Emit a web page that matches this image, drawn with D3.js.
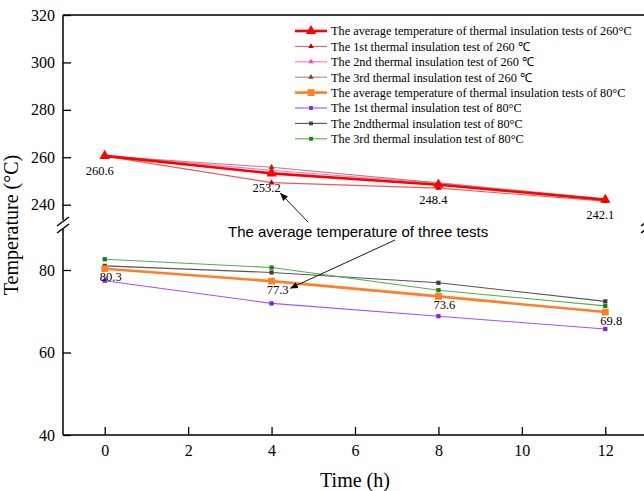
<!DOCTYPE html>
<html>
<head>
<meta charset="utf-8">
<script src="https://cdn.jsdelivr.net/npm/d3@7"></script>
<style>
    body { margin: 0; background: #fff; }
    svg text { font-family: "Liberation Serif", "Times New Roman", serif; fill: #000; }
    .note { font-family: "Liberation Sans", Arial, sans-serif; }
</style>
</head>
<body>
<div id="chart"></div>
<script>

// data
let times = [0, 4, 8, 12];

let avg260 = [260.6, 253.2, 248.4, 242.1];
let test1_260 = [260.5, 249.3, 247.0, 241.5];
let test2_260 = [260.8, 254.5, 249.0, 242.3];
let test3_260 = [260.5, 255.8, 249.2, 242.5];

let avg80 = [80.3, 77.3, 73.6, 69.8];
let test1_80 = [77.4, 71.9, 68.8, 65.7];
let test2_80 = [81.0, 79.4, 76.9, 72.4];
let test3_80 = [82.6, 80.6, 75.1, 71.3];

let xTicks = [0, 2, 4, 6, 8, 10, 12];
let yTicksTop = [240, 260, 280, 300, 320];
let yTicksBottom = [40, 60, 80];

let seriesNames = [
    "The average temperature of thermal insulation tests of 260\u00B0C",
    "The 1st thermal insulation test of 260 \u2103",
    "The 2nd thermal insulation test of 260 \u2103",
    "The 3rd thermal insulation test of 260 \u2103",
    "The average temperature of thermal insulation tests of 80\u00B0C",
    "The 1st thermal insulation test of 80\u00B0C",
    "The 2ndthermal insulation test of 80\u00B0C",
    "The 3rd thermal insulation test of 80\u00B0C"
];
let seriesValues = [avg260, test1_260, test2_260, test3_260, avg80, test1_80, test2_80, test3_80];

// styles for each series (same order)
let seriesStyle = [
    {line: "#FF0000", mark: "#FF0000", width: 2.6, shape: d3.symbolTriangle, size: 48, avg: true},
    {line: "#F05A5A", mark: "#C00000", width: 1.1, shape: d3.symbolTriangle, size: 16},
    {line: "#FF70D0", mark: "#FF40C0", width: 1.1, shape: d3.symbolTriangle, size: 16},
    {line: "#B08A78", mark: "#8B3A1A", width: 1.1, shape: d3.symbolTriangle, size: 16},
    {line: "#FF7F27", mark: "#FF7F27", width: 2.6, shape: d3.symbolSquare, size: 46, avg: true},
    {line: "#A050FF", mark: "#8020F0", width: 1.1, shape: d3.symbolSquare, size: 18},
    {line: "#555555", mark: "#404040", width: 1.1, shape: d3.symbolSquare, size: 18},
    {line: "#50B050", mark: "#108010", width: 1.1, shape: d3.symbolSquare, size: 18}
];


class LineVis {

    constructor(parentElement) {
        this.parentElement = parentElement;
        this.initVis();
    }

    initVis() {
        let vis = this;

        vis.margin = {top: 15, right: 0, bottom: 56, left: 63};
        vis.width = 584;
        vis.height = 420;
        vis.breakY = 210;

        vis.svgRoot = d3.select("#" + vis.parentElement).append("svg")
            .attr("width", 644)
            .attr("height", 491);

        vis.svg = vis.svgRoot.append("g")
            .attr("transform", `translate(${vis.margin.left}, ${vis.margin.top})`);

        vis.x = d3.scaleLinear().domain([-1, 13]).range([0, vis.width]);
        // broken y axis: two linear pieces
        vis.yTop = d3.scaleLinear().domain([240, 320]).range([189.7, 0]);
        vis.yBottom = d3.scaleLinear().domain([40, 80]).range([vis.height, 255]);
        vis.y = v => v > 150 ? vis.yTop(v) : vis.yBottom(v);

        vis.wrangleData();
    }

    wrangleData() {
        let vis = this;
        vis.displayData = seriesValues.map((vals, i) => ({
            name: seriesNames[i],
            style: seriesStyle[i],
            points: vals.map((v, j) => ({t: times[j], v: v}))
        }));
        vis.updateVis();
    }

    updateVis() {
        let vis = this;

        // axes (ticks pointing inward)
        let xAxis = d3.axisBottom(vis.x).tickValues(xTicks).tickSizeInner(-8).tickSizeOuter(0).tickPadding(10);
        let yAxisTop = d3.axisLeft(vis.yTop).tickValues(yTicksTop).tickSizeInner(-8).tickSizeOuter(0).tickPadding(8);
        let yAxisBottom = d3.axisLeft(vis.yBottom).tickValues(yTicksBottom).tickSizeInner(-8).tickSizeOuter(0).tickPadding(8);

        let gx = vis.svg.append("g").attr("transform", `translate(0, ${vis.height})`).call(xAxis);
        let gyt = vis.svg.append("g").call(yAxisTop);
        let gyb = vis.svg.append("g").call(yAxisBottom);

        [gx, gyt, gyb].forEach(g => {
            g.select(".domain").remove();
            g.selectAll(".tick line").attr("stroke", "#000").attr("stroke-width", 1.3);
            g.selectAll(".tick text")
                .style("font-family", '"Liberation Serif", "Times New Roman", serif')
                .style("font-size", "16px");
        });

        // frame with axis break
        let frame = vis.svg.append("g").attr("stroke", "#000").attr("stroke-width", 1.5).attr("fill", "none");
        frame.append("line").attr("x1", 0).attr("x2", vis.width).attr("y1", 0).attr("y2", 0);
        frame.append("line").attr("x1", 0).attr("x2", vis.width).attr("y1", vis.height).attr("y2", vis.height);
        [0, vis.width].forEach(xp => {
            frame.append("line").attr("x1", xp).attr("x2", xp).attr("y1", 0).attr("y2", vis.breakY - 5);
            frame.append("line").attr("x1", xp).attr("x2", xp).attr("y1", vis.breakY + 4).attr("y2", vis.height);
            frame.append("line").attr("x1", xp - 6).attr("x2", xp + 6).attr("y1", vis.breakY + 1).attr("y2", vis.breakY - 8);
            frame.append("line").attr("x1", xp - 6).attr("x2", xp + 6).attr("y1", vis.breakY + 8).attr("y2", vis.breakY - 1);
        });

        // lines, tests drawn before averages
        let line = d3.line().x(d => vis.x(d.t)).y(d => vis.y(d.v));
        let order = [1, 2, 3, 5, 6, 7, 0, 4].map(i => vis.displayData[i]);

        order.forEach(s => {
            vis.svg.append("path")
                .datum(s.points)
                .attr("d", line)
                .attr("fill", "none")
                .attr("stroke", s.style.line)
                .attr("stroke-width", s.style.width);

            vis.svg.selectAll(null)
                .data(s.points)
                .enter()
                .append("path")
                .attr("d", d3.symbol().type(s.style.shape).size(s.style.size))
                .attr("transform", d => `translate(${vis.x(d.t)}, ${vis.y(d.v)})`)
                .attr("fill", s.style.mark);
        });

        // value labels for the averages
        let labelGroup = vis.svg.append("g").style("font-size", "12.5px");
        labelGroup.selectAll(".lab260")
            .data(vis.displayData[0].points)
            .enter().append("text")
            .attr("x", d => vis.x(d.t) - 5)
            .attr("y", d => vis.y(d.v) + 19)
            .attr("text-anchor", "middle")
            .text(d => d.v.toFixed(1));
        labelGroup.selectAll(".lab80")
            .data(vis.displayData[4].points)
            .enter().append("text")
            .attr("x", d => vis.x(d.t) + 6)
            .attr("y", d => vis.y(d.v) + 12.5)
            .attr("text-anchor", "middle")
            .text(d => d.v.toFixed(1));

        // annotation with two arrows
        vis.svgRoot.append("defs").append("marker")
            .attr("id", "arrow")
            .attr("viewBox", "0 0 10 10")
            .attr("refX", 9).attr("refY", 5)
            .attr("markerWidth", 9).attr("markerHeight", 9)
            .attr("orient", "auto-start-reverse")
            .append("path").attr("d", "M0,1 L10,5 L0,9 Z").attr("fill", "#000");

        let noteX = 165, noteY = 222;
        vis.svg.append("text")
            .attr("class", "note")
            .attr("x", noteX)
            .attr("y", noteY)
            .style("font-size", "15px")
            .text("The average temperature of three tests");

        let tip1 = {x: vis.x(4) + 9, y: vis.y(avg260[1]) + 20};
        let tip2 = {x: vis.x(4) + 19, y: vis.y(avg80[1]) + 7};
        vis.svg.append("line")
            .attr("x1", noteX + 80).attr("y1", noteY - 15)
            .attr("x2", tip1.x).attr("y2", tip1.y)
            .attr("stroke", "#000").attr("stroke-width", 0.9)
            .attr("marker-end", "url(#arrow)");
        vis.svg.append("line")
            .attr("x1", noteX + 167).attr("y1", noteY + 3)
            .attr("x2", tip2.x).attr("y2", tip2.y)
            .attr("stroke", "#000").attr("stroke-width", 0.9)
            .attr("marker-end", "url(#arrow)");

        // legend
        let legend = vis.svg.append("g").attr("transform", "translate(232, 16)");
        vis.displayData.forEach((s, i) => {
            let row = legend.append("g").attr("transform", `translate(0, ${i * 15.4})`);
            row.append("line")
                .attr("x1", 0).attr("x2", 32).attr("y1", 0).attr("y2", 0)
                .attr("stroke", s.style.line)
                .attr("stroke-width", s.style.width);
            row.append("path")
                .attr("d", d3.symbol().type(s.style.shape).size(s.style.avg ? s.style.size : s.style.size * 0.8))
                .attr("transform", "translate(16, 0)")
                .attr("fill", s.style.mark);
            row.append("text")
                .attr("x", 36)
                .attr("y", 0)
                .attr("dy", "0.35em")
                .style("font-size", "12.3px")
                .text(s.name);
        });

        // axis titles
        vis.svg.append("text")
            .attr("x", vis.x(6))
            .attr("y", vis.height + 52)
            .attr("text-anchor", "middle")
            .style("font-size", "20px")
            .text("Time (h)");

        vis.svg.append("text")
            .attr("transform", `translate(${-45}, ${vis.breakY}) rotate(-90)`)
            .attr("text-anchor", "middle")
            .style("font-size", "20px")
            .text("Temperature (\u00B0C)");
    }
}

let myLineVis = new LineVis("chart");

</script>
</body>
</html>
